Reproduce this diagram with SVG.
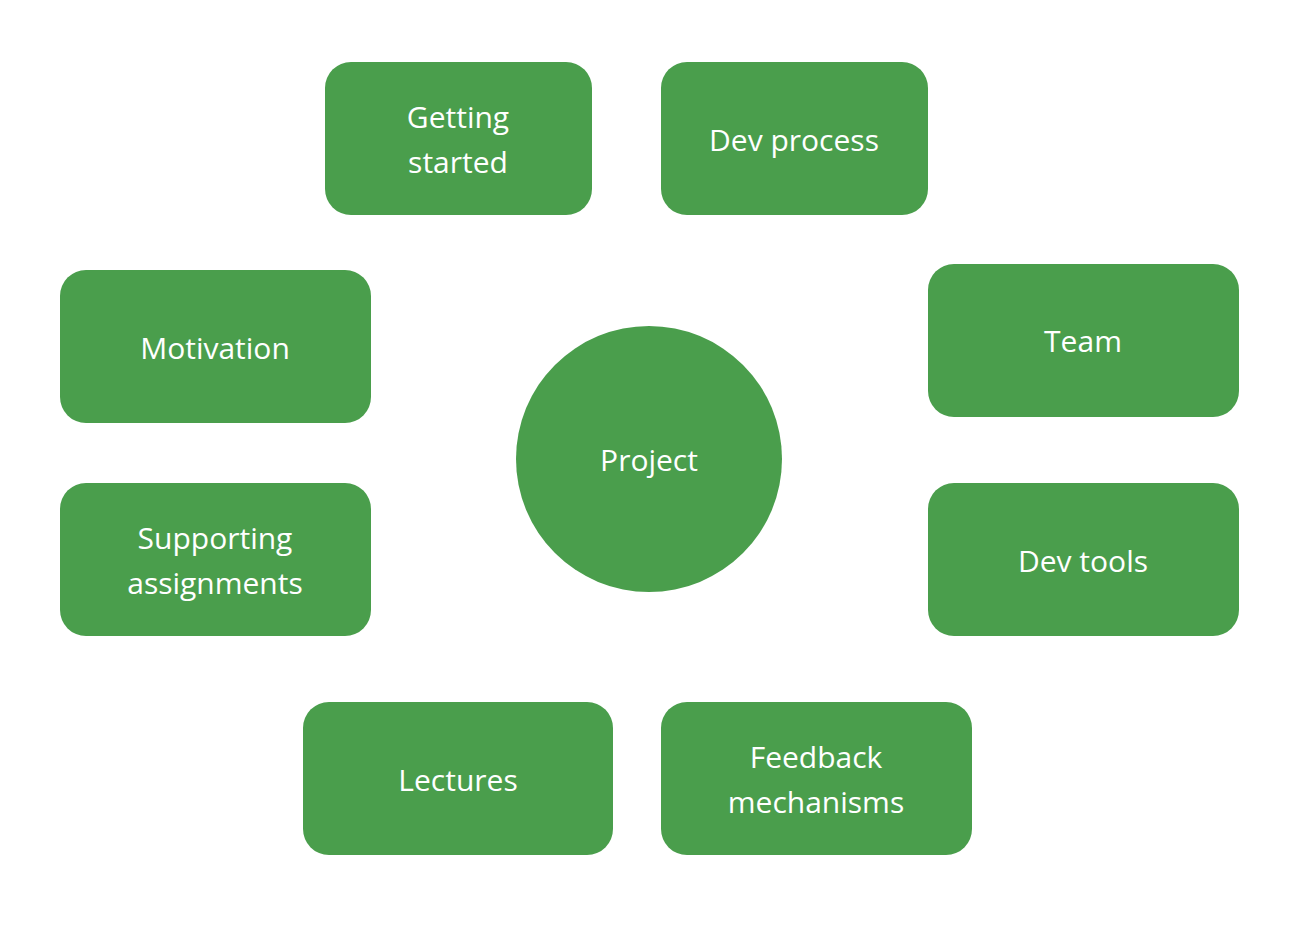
<svg xmlns="http://www.w3.org/2000/svg" width="1290" height="946" viewBox="0 0 1290 946">
<style>
.n{fill:#4A9E4C;}
.t{fill:#fff;font-family:"Open Sans","Liberation Sans",sans-serif;font-size:30px;text-anchor:middle;dominant-baseline:central;}
</style>
<rect width="1290" height="946" fill="#fff"/>
<g id="connectors"/>
<g id="getting-started"><rect class="n" x="325" y="62" width="267" height="153" rx="26"/><text class="t" x="458" y="116">Getting</text><text class="t" x="458" y="161">started</text></g>
<g id="dev-process"><rect class="n" x="661" y="62" width="267" height="153" rx="26"/><text class="t" x="794" y="139">Dev process</text></g>
<g id="motivation"><rect class="n" x="60" y="270" width="311" height="153" rx="26"/><text class="t" x="215" y="347">Motivation</text></g>
<g id="team"><rect class="n" x="928" y="264" width="311" height="153" rx="26"/><text class="t" x="1083" y="340">Team</text></g>
<g id="supporting-assignments"><rect class="n" x="60" y="483" width="311" height="153" rx="26"/><text class="t" x="215" y="537">Supporting</text><text class="t" x="215" y="582">assignments</text></g>
<g id="dev-tools"><rect class="n" x="928" y="483" width="311" height="153" rx="26"/><text class="t" x="1083" y="560">Dev tools</text></g>
<g id="lectures"><rect class="n" x="303" y="702" width="310" height="153" rx="26"/><text class="t" x="458" y="779">Lectures</text></g>
<g id="feedback-mechanisms"><rect class="n" x="661" y="702" width="311" height="153" rx="26"/><text class="t" x="816" y="756">Feedback</text><text class="t" x="816" y="801">mechanisms</text></g>
<g id="project"><circle class="n" cx="649" cy="459" r="133"/><text class="t" x="649" y="459">Project</text></g>
</svg>
